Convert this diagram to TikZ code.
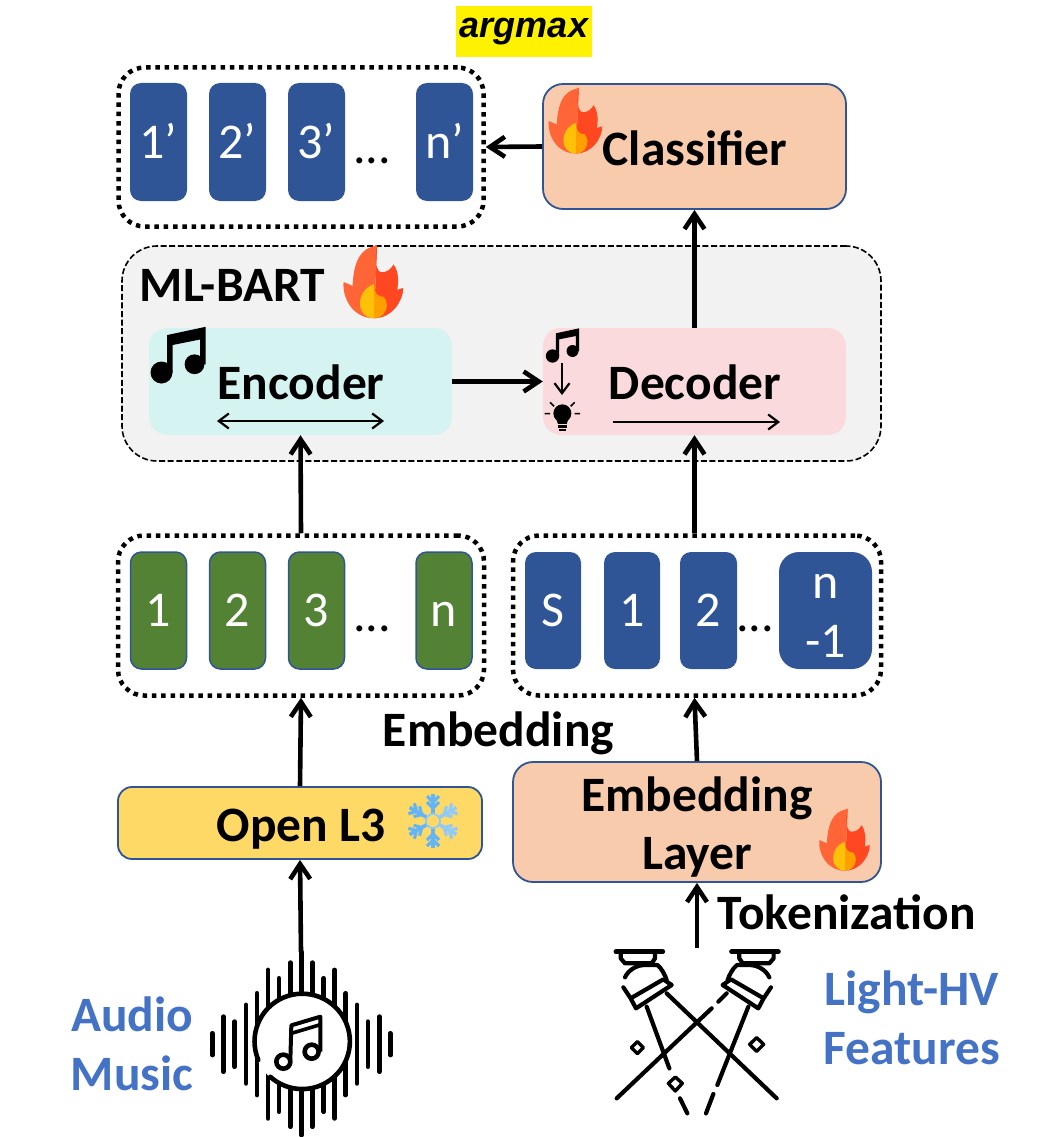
\documentclass[tikz,border=0pt]{standalone}
\usepackage{fontspec}
\setmainfont{Carlito}
\newfontfamily\argfont{Liberation Sans}
\usetikzlibrary{arrows.meta}
\definecolor{tileblue}{HTML}{2F5597}
\definecolor{tilegreen}{HTML}{548235}
\definecolor{peach}{HTML}{F8CBAD}
\definecolor{gold}{HTML}{FFD966}
\definecolor{panelgray}{HTML}{F2F2F2}
\definecolor{encfill}{HTML}{D5F3F0}
\definecolor{decfill}{HTML}{FADADD}
\definecolor{labelblue}{HTML}{4472C4}
\definecolor{flameleft}{HTML}{FF6536}
\definecolor{flameright}{HTML}{FF4721}
\definecolor{innerleft}{HTML}{FFC107}
\definecolor{innerright}{HTML}{FFA000}
\definecolor{snowA}{HTML}{64B5F6}
\definecolor{snowB}{HTML}{90CAF9}
\tikzset{
    groupbox/.style={draw, line width=4.5pt, dash pattern=on 4.5pt off 4.8pt, rounded corners=26pt, inner sep=0pt},
    tilebase/.style={rounded corners=11pt, fill=tileblue, text=white, inner sep=0pt, font=\fontsize{50}{59}\selectfont, align=center},
    tile/.style={tilebase, text height=32pt, text depth=0pt},
    greentile/.style={tile, fill=tilegreen, draw=tileblue, line width=1.5pt},
    softbox/.style={rounded corners=18pt, inner sep=0pt},
    orangebox/.style={softbox, draw=tileblue, line width=1.8pt, fill=peach, rounded corners=20pt},
    lbl/.style={inner sep=0pt, font=\fontsize{49.5}{58.5}\selectfont\bfseries, align=center},
    bluelbl/.style={lbl, text=labelblue},
    dotsep/.style={inner sep=0pt, anchor=base, font=\fontsize{50}{59}\selectfont},
    bigarrow/.style={-{Straight Barb[length=15pt, width=20pt, line width=4.6pt]}, line width=4.6pt},
    thinarrow/.style={-{Straight Barb[length=10pt, width=15pt, line width=2.2pt]}, line width=2.2pt},
    icon/.style={line width=4.2pt, line cap=round, line join=round},
    pics/flame/.style={code={
        \fill[flameleft] (8,-95) -- (0,-92) .. controls (-30,-85) and (-52,-60) .. (-55,10) -- (-78,0) .. controls (-82,40) and (-55,93) .. (0,93) -- cycle;
        \fill[flameright] (8,-95) .. controls (0,-60) and (5,-25) .. (20,-25) .. controls (35,-25) and (45,-35) .. (50,-45) .. controls (65,-25) and (62,0) .. (60,20) -- (75,15) .. controls (75,50) and (45,93) .. (0,93) -- cycle;
        \fill[innerleft] (0,5) .. controls (-25,15) and (-36,35) .. (-36,55) .. controls (-36,78) and (-20,93) .. (0,93) -- cycle;
        \fill[innerright] (0,5) .. controls (0,30) and (10,38) .. (25,38) .. controls (30,45) and (33,50) .. (33,58) .. controls (33,78) and (20,93) .. (0,93) -- cycle;
    }},
    pics/notes/.style={code={
        \fill (-30,30) circle (20);
        \fill (30,15) circle (18);
        \fill (-20,-38) -- (50,-53) -- (50,15) -- (40,15) -- (40,-30) -- (-10,-20) -- (-10,30) -- (-20,30) -- cycle;
    }},
    pics/lamp/.style={code={
        \draw[icon, line width=5pt] (48,65) -- (188,65);
        \draw[icon] (62,68) -- (62,85) -- (75,100) -- (155,100) -- (165,85) -- (165,68);
        \draw[icon] (75,142) .. controls (85,120) and (110,105) .. (135,105) -- (172,105) .. controls (185,115) and (195,135) .. (200,150);
        \draw[icon] (70,172) -- (92,205) -- (190,148) -- (215,165) -- (108,235) -- (92,205);
    }},
    pics/snowflake/.style={code={
        \foreach \a/\c in {90/snowA,150/snowA,210/snowA,270/snowA,30/snowB,-30/snowB}{
            \draw[\c, line width=3.6pt, rotate=\a] (7,0) -- (27,0);
            \draw[\c, line width=3.2pt, rotate=\a] (13,0) -- (19,-6) (13,0) -- (19,6) (19,0) -- (25,-6) (19,0) -- (25,6);
        }
        \draw[snowB, line width=1.8pt, fill=gold] (0,0) circle (7);
    }}
}
\begin{document}
\begin{tikzpicture}[x=1pt, y=-1pt]
    \useasboundingbox (0,0) rectangle (1045,1137);

    % top row
    \node[fill=yellow, minimum width=136pt, minimum height=51pt, inner sep=0pt, font=\argfont\fontsize{36}{40}\selectfont\bfseries\itshape] (argmax) at (524,31.5) {argmax};
    \node[groupbox, minimum width=365pt, minimum height=159pt] (outbox) at (301,147) {};
    \node[tile, minimum width=57pt, minimum height=118pt] (out1) at (158.5,142) {1’};
    \node[tile, minimum width=57pt, minimum height=118pt] (out2) at (237.5,142) {2’};
    \node[tile, minimum width=57pt, minimum height=118pt] (out3) at (316.5,142) {3’};
    \node[tile, minimum width=57pt, minimum height=118pt] (outn) at (444.5,142) {n’};
    \node[dotsep] (outdots) at (372,163) {...};
    \node[orangebox, minimum width=303pt, minimum height=125pt] (classifier) at (694.5,146.5) {};
    \node[lbl] (classlbl) at (695,148) {Classifier};
    \pic[scale=0.35] at (576,121) {flame};

    % ML-BART
    \node[draw, line width=1.6pt, dash pattern=on 6pt off 2.6pt, fill=panelgray, rounded corners=35pt, minimum width=759pt, minimum height=215pt, inner sep=0pt] (bart) at (501.5,353.5) {};
    \node[lbl] (bartlbl) at (232.5,285) {ML-BART};
    \pic[scale=0.39] at (374,282) {flame};
    \node[softbox, fill=encfill, minimum width=303pt, minimum height=107pt] (encoder) at (300.5,381.5) {};
    \node[softbox, fill=decfill, minimum width=303pt, minimum height=107pt] (decoder) at (694.5,381.5) {};
    \node[lbl] (enclbl) at (301,382) {Encoder};
    \node[lbl] (declbl) at (695,382) {Decoder};
    \pic[scale=0.55] at (178,356) {notes};
    \pic[scale=1/3] at (562.5,346) {notes};
    \coordinate (encl) at (217,421);
    \coordinate (encr) at (384,421);
    \coordinate (decl) at (613,422);
    \coordinate (decr) at (780,422);
    \coordinate (musicup) at (562,363);
    \coordinate (bulbdown) at (562,395);
    \draw[thinarrow, {Straight Barb[length=10pt, width=15pt, line width=2.2pt]}-{Straight Barb[length=10pt, width=15pt, line width=2.2pt]}] (encl) -- (encr);
    \draw[thinarrow] (decl) -- (decr);
    \draw[thinarrow] (musicup) -- (bulbdown);
    % bulb
    \begin{scope}[shift={(520,70)}, scale=1/3]
        \fill (127,1030) circle (27);
        \fill (108,1045) -- (146,1045) -- (140,1062) -- (114,1062) -- cycle;
        \fill (113,1066) rectangle (141,1073);
        \fill (117,1077) rectangle (137,1084);
        \draw[line width=1.6pt] (74,1031) -- (90,1031) (164,1031) -- (180,1031) (90,997) -- (102,1009) (164,997) -- (152,1009);
    \end{scope}

    % lower rows
    \node[groupbox, minimum width=366pt, minimum height=160pt] (greenbox) at (301,615.5) {};
    \node[greentile, minimum width=56pt, minimum height=117pt] (in1) at (158.5,610.5) {1};
    \node[greentile, minimum width=56pt, minimum height=117pt] (in2) at (237.5,610.5) {2};
    \node[greentile, minimum width=56pt, minimum height=117pt] (in3) at (316.5,610.5) {3};
    \node[greentile, minimum width=56pt, minimum height=117pt] (inn) at (444,610.5) {n};
    \node[dotsep] (indots) at (372,631) {...};
    \node[groupbox, minimum width=368pt, minimum height=160pt] (tokenbox) at (697,615.5) {};
    \node[tile, minimum width=56pt, minimum height=117pt] (tokS) at (553,610.5) {S};
    \node[tile, minimum width=56pt, minimum height=117pt] (tok1) at (632,610.5) {1};
    \node[tile, minimum width=57pt, minimum height=117pt] (tok2) at (708.5,610.5) {2};
    \node[tilebase, rounded corners=20pt, minimum width=93pt, minimum height=117pt, text height=93pt, text depth=0pt] (tokn) at (825.5,610.5) {n\\-1};
    \node[dotsep] (tokdots) at (755,631) {...};
    \node[lbl] (embedlbl) at (498.5,733) {Embedding};

    \node[softbox, draw=tileblue, line width=1.8pt, fill=gold, rounded corners=14pt, minimum width=364pt, minimum height=72pt] (openl3) at (300,823) {};
    \node[lbl] (openlbl) at (301,829) {Open L3};
    \pic at (433,821) {snowflake};
    \node[orangebox, minimum width=368pt, minimum height=120pt] (emblayer) at (697,822) {};
    \node[lbl] (emblbl) at (697,827) {Embedding\\Layer};
    \pic[scale=0.33] at (845,840) {flame};

    % bottom labels
    \node[lbl] (tokenlbl) at (847,912) {Tokenization};
    \node[bluelbl] (lightlbl) at (912,1018) {Light-HV\\Features};
    \node[bluelbl] (audiolbl) at (132,1044) {Audio\\Music};

    % audio icon
    \coordinate (audio) at (301,952);
    \begin{scope}[shift={(190,950)}, scale=1/3]
        \foreach \x/\t/\b in {67/250/315,100/200/365,134/215/350,168/165/400,201/130/435,234/60/505,267/85/485,301/38/530,334/6/555,367/38/530,401/85/485,434/60/505,467/130/435,501/165/400,534/215/350,568/200/365,601/250/315}{
            \draw[line width=4.8pt, line cap=round] (\x,\t) -- (\x,\b);
        }
        \fill[white] (335,275) circle (143);
        \draw[line width=4.6pt, line cap=round] (205,330) arc[start angle=157, end angle=492, radius=143];
        \draw[line width=4.6pt] (280,335) circle (21);
        \draw[line width=4.6pt] (365,305) circle (21);
        \draw[line width=4pt, line join=round] (301,330) -- (304,226) -- (391,200) -- (391,305);
        \draw[line width=3.6pt] (304,250) -- (391,224);
    \end{scope}

    % lights icon
    \coordinate (lights) at (697,948);
    \pic[scale=1/3] at (600,930) {lamp};
    \pic[scale=1/3, xscale=-1] at (794.3,930) {lamp};
    \begin{scope}[shift={(600,930)}, scale=1/3]
        \draw[icon] (140,230) -- (208,415) (240,505) -- (262,550);
        \draw[icon] (445,230) -- (352,465) (340,492) -- (318,550);
        \draw[icon] (200,190) -- (530,505);
        \draw[icon] (335,235) -- (50,505);
        \draw[icon] (380,190) -- (355,215);
        \draw[icon, line width=3.4pt] (112,335) -- (130,353) -- (112,371) -- (94,353) -- cycle;
        \draw[icon, line width=3.4pt] (226,441) -- (247,460) -- (226,483) -- (205,460) -- cycle;
        \draw[icon, line width=3.4pt] (470,323) -- (491,343) -- (470,364) -- (449,343) -- cycle;
    \end{scope}

    % connectors
    \draw[bigarrow] (classifier.west) -- (outbox.east);
    \draw[bigarrow] (decoder.north) -- (classifier.south);
    \draw[bigarrow] (encoder.east) -- (decoder.west);
    \draw[bigarrow] (greenbox.north) -- (encoder.south);
    \draw[bigarrow] (tokenbox.north -| decoder.south) -- (decoder.south);
    \draw[bigarrow] (openl3.north) -- (greenbox.south);
    \draw[bigarrow] (emblayer.north) -- (tokenbox.south -| decoder.south);
    \draw[bigarrow] (audio) -- (openl3.south);
    \draw[bigarrow] (lights) -- (emblayer.south);
\end{tikzpicture}
\end{document}
